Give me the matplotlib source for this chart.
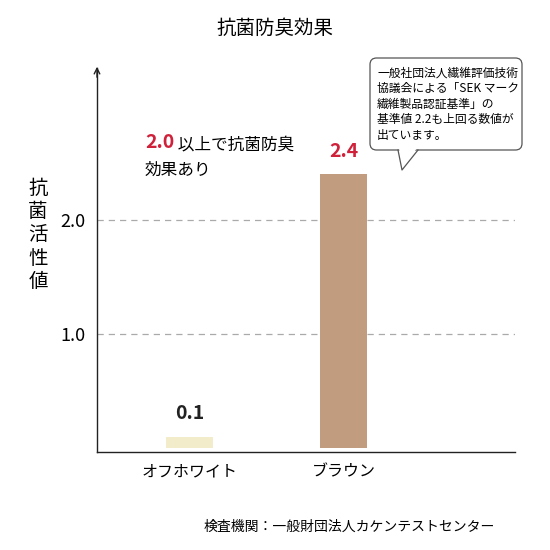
import matplotlib
matplotlib.use("Agg")
import matplotlib.pyplot as plt
from matplotlib.patches import FancyBboxPatch, Polygon
from matplotlib.lines import Line2D

plt.rcParams['font.family'] = ['Noto Sans CJK JP', 'DejaVu Sans']

categories = ["オフホワイト", "ブラウン"]
values = [0.1, 2.4]
colors = ["#f3eccb", "#c29c7e"]
value_labels = ["0.1", "2.4"]
label_colors = ["#222222", "#d0213a"]
yticks = [1.0, 2.0]
ytick_labels = ["1.0", "2.0"]

W = H = 550
fig = plt.figure(figsize=(5.5, 5.5), dpi=100)
def fx(x): return x / W
def fy(y): return 1 - y / H

ax = fig.add_axes([fx(97), fy(452), fx(515) - fx(97), fy(68) - fy(452)])
ax.set_xlim(-0.80, 2.81)
ax.set_ylim(-4/114, 384/114 - 4/114)
xs = [0, 1.33]
ax.bar(xs, values, width=0.4, color=colors, zorder=2)
for x, v, t, c in zip(xs, values, value_labels, label_colors):
    ax.text(x, v + 0.12, t, ha='center', va='bottom', fontsize=14, fontweight='bold', color=c)
for y in yticks:
    ax.axhline(y, color='#aaaaaa', ls=(0, (5, 4)), lw=0.9, zorder=1)
ax.set_yticks(yticks)
ax.set_yticklabels(ytick_labels, fontsize=13)
ax.set_xticks(xs)
ax.set_xticklabels(categories, fontsize=11.5)
ax.tick_params(length=0, pad=8)
for s in ['top', 'right']:
    ax.spines[s].set_visible(False)
for s in ['left', 'bottom']:
    ax.spines[s].set_color('#222222')
    ax.spines[s].set_linewidth(1.0)
ax.annotate('', xy=(fx(97), fy(64)), xytext=(fx(97), fy(80)), xycoords='figure fraction',
            arrowprops=dict(arrowstyle='->', color='#222222', lw=1.0))

fig.text(0.5, fy(28), "抗菌防臭効果", ha='center', va='center', fontsize=14)
fig.text(fx(38), fy(235), "抗\n菌\n活\n性\n値", ha='center', va='center', fontsize=14, linespacing=1.15)
fig.text(fx(145), fy(143), "2.0", color='#d0213a', fontsize=14, fontweight='bold', va='center')
fig.text(fx(174), fy(145), " 以上で抗菌防臭", fontsize=12, va='center')
fig.text(fx(145), fy(170), "効果あり", fontsize=12, va='center')

box = FancyBboxPatch((fx(370), fy(150)), fx(522) - fx(370), fy(58) - fy(150),
                     boxstyle="round,pad=0,rounding_size=0.012", transform=fig.transFigure,
                     facecolor='white', edgecolor='#555555', lw=0.9)
fig.patches.append(box)
fig.patches.append(Polygon([[fx(399), fy(148)], [fx(417), fy(148)], [fx(402), fy(169)]],
                           transform=fig.transFigure, facecolor='white', edgecolor='none'))
fig.lines.append(Line2D([fx(398), fx(402), fx(418)], [fy(150), fy(170), fy(150)],
                        transform=fig.transFigure, color='#555555', lw=0.9))
fig.text(fx(377), fy(104), "一般社団法人繊維評価技術\n協議会による「SEK マーク\n繊維製品認証基準」の\n基準値 2.2も上回る数値が\n出ています。",
         fontsize=8.5, va='center', ha='left', linespacing=1.25)

fig.text(fx(495), fy(527), "検査機関：一般財団法人カケンテストセンター", ha='right', va='center', fontsize=10)

fig.savefig("out.png", dpi=100, facecolor='white')
